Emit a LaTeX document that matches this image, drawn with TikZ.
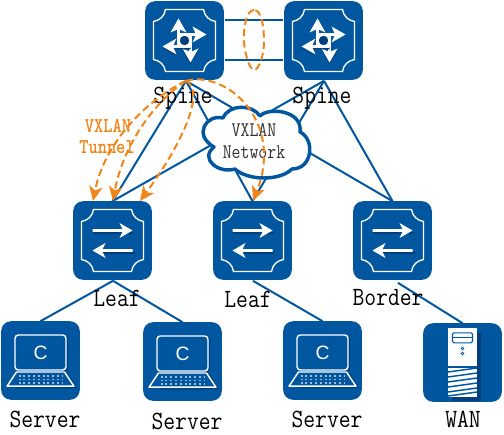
\documentclass[tikz,border=0pt]{standalone}
\usepackage{fontspec}
\usepackage{graphicx}
\newfontfamily\iconfont{Liberation Sans}
\usetikzlibrary{arrows.meta,calc}
\definecolor{netblue}{HTML}{00569F}
\definecolor{darkblue}{HTML}{003F7C}
\definecolor{tunnel}{HTML}{F08519}
\newcommand{\pinarrow}{(-13,-1.3) -- (4,-1.3) -- (1,-8) -- (15,0) -- (1,8) -- (4,1.3) -- (-13,1.3) -- cycle}
\newcommand{\tallA}[1]{\scalebox{1}[1.15]{#1}}
\newcommand{\tallB}[1]{\scalebox{1}[1.2]{#1}}
\tikzset{
  x=0.75pt,y=-0.75pt,
  iconbox/.style={draw=none,fill=netblue,rounded corners=7.5pt,minimum size=59pt,inner sep=0pt,outer sep=0pt},
  link/.style={draw=netblue,line width=1.5pt},
  tun/.style={draw=tunnel,line width=1.5pt,dash pattern=on 5.5pt off 3pt},
  tunarrow/.style={tun,-{Stealth[length=11pt,width=10pt,inset=3pt,fill=tunnel]}},
  lbl/.style={font=\ttfamily\fontsize{17.2}{18}\selectfont,text=black,inner sep=0pt},
  cloudlbl/.style={font=\ttfamily\fontsize{13}{16.5}\selectfont,text=black!80,inner sep=0pt},
  tunlbl/.style={font=\ttfamily\bfseries\fontsize{13.2}{15.5}\selectfont,text=tunnel,inner sep=0pt},
  frameicon/.pic={
    \draw[white,line width=1pt] (-19,-31) -- (19,-31) .. controls (20,-24) and (25,-20) .. (31,-19) -- (31,19) .. controls (25,20) and (20,24) .. (19,31) -- (-19,31) .. controls (-20,24) and (-25,20) .. (-31,19) -- (-31,-19) .. controls (-25,-20) and (-20,-24) .. (-19,-31) -- cycle;
  },
  switchicon/.pic={
    \pic {frameicon};
    \fill[darkblue] (-20,-8.7) rectangle (21,-6.5);
    \fill[darkblue] (-14,11.3) rectangle (22,13.5);
    \fill[white] (-20,-11.3) -- (10,-11.3) -- (7,-17.5) -- (20,-10) -- (7,-2.5) -- (10,-8.7) -- (-20,-8.7) -- cycle;
    \fill[white] (20,8.7) -- (-10,8.7) -- (-7,2.5) -- (-20,10) -- (-7,17.5) -- (-10,11.3) -- (20,11.3) -- cycle;
  },
  spineicon/.pic={
    \pic {frameicon};
    \begin{scope}[shift={(-6,-7)},rotate=90]
      \fill[white] \pinarrow;
    \end{scope}
    \begin{scope}[shift={(6,7)},rotate=-90]
      \fill[darkblue,xshift=1.2pt,yshift=0pt] \pinarrow;
      \fill[white] \pinarrow;
    \end{scope}
    \begin{scope}[shift={(7,-6)}]
      \fill[white] \pinarrow;
    \end{scope}
    \begin{scope}[shift={(-7,6)},rotate=180]
      \fill[darkblue,yshift=1.2pt] \pinarrow;
      \fill[white] \pinarrow;
    \end{scope}
    \draw[white,line width=0.9pt,fill=darkblue] (0,0) circle[radius=5.5];
    \fill[white] (-6,-6) rectangle (-4.6,5);
    \fill[white] (-5,-6.7) rectangle (6,-5.3);
    \fill[white] (5.3,-5) rectangle (6.7,6);
    \fill[white] (-6,5.3) rectangle (6,6.7);
  },
  laptopicon/.pic={
    \draw[darkblue,line width=1pt] (-24,27.2) -- (35,27.2) -- (27,13);
    \draw[darkblue,line width=1pt,rounded corners=2.5pt] (27,-24) -- (27,11) -- (20,11);
    \draw[white,line width=1.1pt,rounded corners=2.5pt,fill=netblue] (-25.5,-25.5) rectangle (25.5,9.5);
    \draw[white,line width=1.1pt,line join=round] (-24,11.5) -- (24,11.5) -- (33.5,25.7) -- (-33.5,25.7) -- cycle;
    \foreach \yy in {15.5,19,22.5}
      \draw[white!60!netblue,line width=0.9pt,dash pattern=on 1.6pt off 2pt] (-22,\yy) -- (22,\yy);
    \node[font=\iconfont\fontsize{14.5}{14.5}\selectfont,text=white,inner sep=0pt] (cletter) at (0,-8) {C};
  },
  towericon/.pic={
    \fill[darkblue] (-11,-30) rectangle (18,38);
    \fill[white] (-14.5,-34.5) rectangle (14.5,34.5);
    \draw[netblue,line width=0.8pt,rounded corners=1pt] (-10,-29.7) rectangle (10,-19.7);
    \draw[netblue,line width=0.8pt] (-10,-24.7) -- (10,-24.7);
    \draw[netblue,line width=0.6pt] (0,-14) circle[radius=1.4] (0,-9) circle[radius=1.4];
    \draw[netblue,line width=1pt] (-14.5,4.5) -- (14.5,4.5);
    \foreach \yy in {9.5,14.5,19.5,24.5,29.5,33.5}
      \draw[netblue,line width=1.1pt] (-14.5,\yy) -- (14.5,\yy-4);
  }
}
\begin{document}
\begin{tikzpicture}
\useasboundingbox (0,0) rectangle (504,435);
% device boxes
\node[iconbox] (spineA) at (184.5,40.5) {};
\node[iconbox] (spineB) at (323.5,40.5) {};
\node[iconbox] (leafA) at (112.5,240.5) {};
\node[iconbox] (leafB) at (252.5,240.5) {};
\node[iconbox] (border) at (392.5,240.5) {};
\node[iconbox] (serverA) at (40.5,360.5) {};
\node[iconbox] (serverB) at (182.5,361.5) {};
\node[iconbox] (serverC) at (322.5,360.5) {};
\node[iconbox] (wan) at (462.5,362.5) {};
\pic at (spineA.center) {spineicon};
\pic at (spineB.center) {spineicon};
\pic at (leafA.center) {switchicon};
\pic at (leafB.center) {switchicon};
\pic at (border.center) {switchicon};
\pic at (serverA.center) {laptopicon};
\pic at (serverB.center) {laptopicon};
\pic at (serverC.center) {laptopicon};
\pic at (wan.center) {towericon};
% links
\coordinate (aS) at ($(spineA.south)+(1.5,1)$);
\coordinate (bS) at ($(spineB.south)+(0.5,1)$);
\foreach \from in {aS,bS}
  \foreach \to in {leafA,leafB,border}
    \draw[link] (\from) -- (\to.north);
\draw[link] ($(spineA.east)+(1,-20)$) -- ($(spineB.west)+(-1,-20)$);
\draw[link] ($(spineA.east)+(1,20)$) -- ($(spineB.west)+(-1,20)$);
\draw[link] ($(leafA.south)+(0.5,1)$) -- (serverA.north);
\draw[link] ($(leafA.south)+(0.5,1)$) -- (serverB.north);
\draw[link] ($(leafB.south)+(0.5,1)$) -- (serverC.north);
\draw[link] ($(border.south)+(5.5,3)$) -- (wan.north);
% cloud
\filldraw[draw=netblue,fill=white,line width=2.6pt,line join=round]
  (223,118) .. controls (229,104) and (252,104) .. (260,116)
  .. controls (268,107) and (303,110) .. (300,132)
  .. controls (315,139) and (313,169) .. (292,169)
  .. controls (280,181) and (248,181) .. (235,169)
  .. controls (219,174) and (199,159) .. (214,147)
  .. controls (193,135) and (206,114) .. (223,118) -- cycle;
\node[cloudlbl] (cloudA) at (254,130) {\tallB{VXLAN}};
\node[cloudlbl] (cloudB) at (254,152) {\tallB{Network}};
% labels
\node[lbl] (l1) at (183,98) {\tallA{Spine}};
\node[lbl] (l2) at (322,98) {\tallA{Spine}};
\node[lbl] (l3) at (117,298) {\tallA{Leaf}};
\node[lbl] (l4) at (248,299) {\tallA{Leaf}};
\node[lbl] (l5) at (388,298) {\tallA{Border}};
\node[lbl] (l6) at (45,419) {\tallA{Server}};
\node[lbl] (l7) at (187,421) {\tallA{Server}};
\node[lbl] (l8) at (327,419) {\tallA{Server}};
\node[lbl] (l9) at (463,419) {\tallA{WAN}};
\node[tunlbl] (tA) at (108,126) {\tallB{VXLAN}};
\node[tunlbl] (tB) at (107,147) {\tallB{Tunnel}};
% tunnels
\draw[tun] (254,10) .. controls (246,10) and (243,30) .. (244,42) .. controls (245,55) and (250,70) .. (254,70) .. controls (259,70) and (264,55) .. (264,42) .. controls (264,28) and (262,10) .. (254,10) -- cycle;
\draw[tunarrow] (aS) .. controls (150,98) and (105,140) .. (93,201);
\draw[tunarrow] (aS) .. controls (150,105) and (122,150) .. (113,201);
\draw[tunarrow] (aS) .. controls (205,90) and (185,140) .. (140,201);
\draw[tunarrow] (aS) .. controls (225,70) and (285,120) .. (253,201);
\end{tikzpicture}
\end{document}
